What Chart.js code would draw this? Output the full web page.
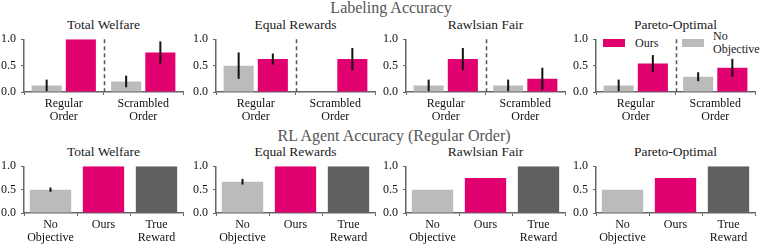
<!DOCTYPE html>
<html>
<head>
<meta charset="utf-8">
<script src="https://cdn.jsdelivr.net/npm/chart.js@4.4.0/dist/chart.umd.min.js"></script>
<style>
  body { margin: 0; background: #fff; width: 761px; height: 246px; position: relative; overflow: hidden; font-family: 'Liberation Serif', serif; }
  canvas { position: absolute; }
  .txt { position: absolute; white-space: nowrap; text-align: center; color: #1a1a1a; }
  .sup { font-size: 16px; color: #555; line-height: 18px; width: 400px; }
  .ttl { font-size: 13.5px; line-height: 16px; width: 159px; }
  .leg { font-size: 12px; line-height: 13px; text-align: left; }
  .box { position: absolute; width: 22px; height: 8px; }
</style>
</head>
<body>
<div class="txt sup" style="left:191px; top:-1px;">Labeling Accuracy</div>
<div class="txt sup" style="left:194px; top:127px;">RL Agent Accuracy (Regular Order)</div>
<div id="titles"></div>
<div class="box" style="left:603px; top:39px; background:#E0006F;"></div>
<div class="txt leg" style="left:635px; top:37px;">Ours</div>
<div class="box" style="left:682px; top:39px; background:#BBBBBB;"></div>
<div class="txt leg" style="left:713px; top:30px;">No<br>Objective</div>

<script>
// panel titles and category labels
var panelTitles = ['Total Welfare', 'Equal Rewards', 'Rawlsian Fair', 'Pareto-Optimal'];
var orderLabels = [['Regular', 'Order'], ['Scrambled', 'Order']];
var methodLabels = [['No', 'Objective'], 'Ours', ['True', 'Reward']];

// labeling accuracy per panel: [regular, scrambled]
var labelNoObj = [[0.125, 0.2], [0.5, 0], [0.125, 0.125], [0.125, 0.29]];
var labelNoObjErr = [[0.11, 0.11], [0.25, 0], [0.11, 0.11], [0.11, 0.085]];
var labelOurs = [[1.0, 0.75], [0.625, 0.625], [0.625, 0.25], [0.54, 0.46]];
var labelOursErr = [[0, 0.21], [0.105, 0.21], [0.21, 0.21], [0.16, 0.17]];

// RL agent accuracy per panel
var rlNoObj = [0.5, 0.67, 0.5, 0.5];
var rlNoObjErr = [0.045, 0.06, 0, 0];
var rlOurs = [1.0, 1.0, 0.75, 0.75];
var rlTrue = [1.0, 1.0, 1.0, 1.0];

var yTicks = [0.0, 0.5, 1.0];

var PINK = '#E0006F', LIGHT = '#BBBBBB', DARK = '#606060', SPINE = '#666';
var plotLefts = [24, 216, 406, 596];
var plotW = 159;

// draws vertical error bars on top of the bars
var errorBarPlugin = {
    id: 'errorBars',
    afterDatasetsDraw: function (chart) {
        var ctx = chart.ctx;
        var yScale = chart.scales.y;
        chart.data.datasets.forEach(function (ds, i) {
            if (!ds.errors) return;
            var meta = chart.getDatasetMeta(i);
            meta.data.forEach(function (bar, j) {
                var e = ds.errors[j];
                if (!e) return;
                var v = ds.data[j];
                var yTop = yScale.getPixelForValue(v + e);
                var yBot = yScale.getPixelForValue(Math.max(v - e, 0));
                ctx.save();
                ctx.strokeStyle = '#111';
                ctx.lineWidth = 2;
                ctx.beginPath();
                ctx.moveTo(bar.x, yTop);
                ctx.lineTo(bar.x, yBot);
                ctx.stroke();
                ctx.restore();
            });
        });
    }
};

// dashed separator between the two order groups
var dividerPlugin = {
    id: 'divider',
    afterDatasetsDraw: function (chart) {
        if (!chart.options.plugins.divider || !chart.options.plugins.divider.show) return;
        var x = chart.scales.x;
        var px = Math.round((x.getPixelForValue(0) + x.getPixelForValue(1)) / 2) + 0.5;
        var ctx = chart.ctx;
        ctx.save();
        ctx.strokeStyle = '#555';
        ctx.lineWidth = 1.5;
        ctx.setLineDash([4, 3]);
        ctx.beginPath();
        ctx.moveTo(px, chart.chartArea.top);
        ctx.lineTo(px, chart.chartArea.bottom);
        ctx.stroke();
        ctx.restore();
    }
};

function makeChart(left, top, height, xHeight, labels, datasets, barOpts, divider) {
    var canvas = document.createElement('canvas');
    canvas.width = 24 + plotW + 4;
    canvas.height = height;
    canvas.style.left = (left - 24) + 'px';
    canvas.style.top = top + 'px';
    document.body.appendChild(canvas);
    var font = { family: 'Liberation Serif', size: 12, lineHeight: 1.05 };
    return new Chart(canvas.getContext('2d'), {
        type: 'bar',
        data: { labels: labels, datasets: datasets },
        options: {
            responsive: false,
            animation: false,
            devicePixelRatio: 1,
            layout: { padding: { top: 8, right: 4, left: 0, bottom: 0 } },
            datasets: { bar: barOpts },
            scales: {
                x: {
                    grid: { drawOnChartArea: false, drawTicks: true, tickLength: 3, color: SPINE },
                    border: { display: true, color: SPINE, width: 1.5 },
                    ticks: { font: font, color: '#111', padding: 3, maxRotation: 0, autoSkip: false },
                    afterFit: function (s) { s.height = xHeight; }
                },
                y: {
                    min: 0,
                    max: 1,
                    afterBuildTicks: function (s) {
                        s.ticks = yTicks.map(function (v) { return { value: v }; });
                    },
                    grid: { drawOnChartArea: false, drawTicks: true, tickLength: 3, color: SPINE },
                    border: { display: true, color: SPINE, width: 1.5 },
                    ticks: {
                        font: font, color: '#111', padding: 5,
                        callback: function (v) { return Number(v).toFixed(1); }
                    },
                    afterFit: function (s) { s.width = 24; }
                }
            },
            plugins: {
                legend: { display: false },
                tooltip: { enabled: false },
                divider: { show: divider }
            }
        },
        plugins: [errorBarPlugin, dividerPlugin]
    });
}

function drawAll() {
    var titles = document.getElementById('titles');
    for (var i = 0; i < 4; i++) {
        // subplot titles
        var t1 = document.createElement('div');
        t1.className = 'txt ttl';
        t1.style.left = plotLefts[i] + 'px';
        t1.style.top = '17px';
        t1.textContent = panelTitles[i];
        titles.appendChild(t1);
        var t2 = document.createElement('div');
        t2.className = 'txt ttl';
        t2.style.left = plotLefts[i] + 'px';
        t2.style.top = '144px';
        t2.textContent = panelTitles[i];
        titles.appendChild(t2);

        // labeling accuracy row
        makeChart(plotLefts[i], 28, 95, 31, orderLabels, [
            { data: labelNoObj[i], errors: labelNoObjErr[i], backgroundColor: LIGHT },
            { data: labelOurs[i], errors: labelOursErr[i], backgroundColor: PINK }
        ], { categoryPercentage: 0.86, barPercentage: 0.88 }, true);

        // RL agent accuracy row
        makeChart(plotLefts[i], 155, 91, 33, methodLabels, [
            {
                data: [rlNoObj[i], rlOurs[i], rlTrue[i]],
                errors: [rlNoObjErr[i], 0, 0],
                backgroundColor: [LIGHT, PINK, DARK]
            }
        ], { categoryPercentage: 1.0, barPercentage: 0.78 }, false);
    }
}

if (document.fonts && document.fonts.load) {
    document.fonts.load('12px "Liberation Serif"').then(drawAll, drawAll);
} else {
    drawAll();
}
</script>
</body>
</html>
